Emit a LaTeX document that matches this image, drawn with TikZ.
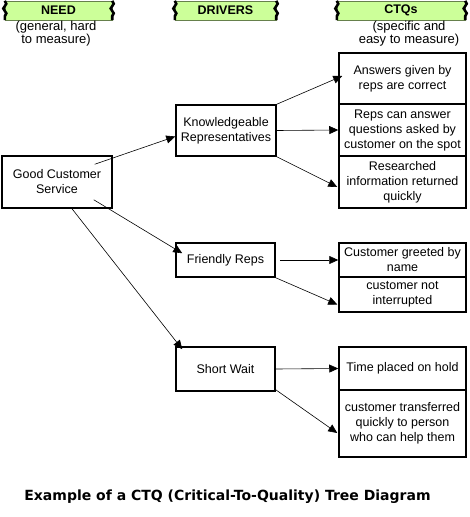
\documentclass[tikz,border=0pt]{standalone}
\usepackage{fontspec}
\setmainfont{Liberation Sans}
\newfontfamily\capfont{DejaVu Sans}
\usetikzlibrary{arrows.meta,calc,decorations.pathmorphing}

\definecolor{bannergreen}{RGB}{204,255,153}

\tikzset{
  banner/.style={fill=bannergreen,draw=bannergreen!50!black,line width=0.4pt,minimum height=19pt,inner sep=0pt,font=\bfseries\fontsize{12.5}{14}\selectfont},
  bannerend/.style={line width=2.6pt,decorate,decoration={snake,amplitude=1.5pt,segment length=9.5pt}},
  subtext/.style={align=center,font=\fontsize{13}{13}\selectfont},
  treebox/.style={draw,line width=1.5pt,inner sep=0pt,align=center,font=\fontsize{12.5}{15}\selectfont},
  link/.style={line width=0.6pt,-{Triangle[length=9pt,width=8pt]}}
}

\begin{document}
\begin{tikzpicture}[x=1pt,y=-1pt]
\useasboundingbox (0,0) rectangle (469,517);

% column headings
\node[banner,minimum width=107pt] (need) at (58.5,10.5) {NEED};
\node[banner,minimum width=101pt] (drivers) at (225.5,10.5) {DRIVERS};
\node[banner,minimum width=128pt] (ctqs) at (401,10.5) {CTQs};
\foreach \b in {need,drivers,ctqs} {
  \draw[bannerend] (\b.north west) -- (\b.south west);
  \draw[bannerend] (\b.north east) -- (\b.south east);
}
\node[subtext] (needsub) at (56,34) {(general, hard\\to measure)};
\node[subtext] (ctqsub) at (409,34) {(specific and\\easy to measure)};

% need and drivers
\node[treebox,minimum width=110pt,minimum height=52pt] (gcs) at (57,182) {Good Customer\\Service};
\node[treebox,minimum width=100pt,minimum height=51pt] (kr) at (226,130.5) {Knowledgeable\\Representatives};
\node[treebox,minimum width=99pt,minimum height=34pt] (fr) at (225.5,260) {Friendly Reps};
\node[treebox,minimum width=99pt,minimum height=44pt] (sw) at (225.5,369) {Short Wait};

% ctqs
\node[treebox,minimum width=127pt,minimum height=51pt] (a1) at (402.5,78.5) {Answers given by\\reps are correct};
\node[treebox,minimum width=127pt,minimum height=52pt] (a2) at (402.5,130) {Reps can answer\\questions asked by\\customer on the spot};
\node[treebox,minimum width=127pt,minimum height=52pt] (a3) at (402.5,182) {Researched\\information returned\\quickly};
\node[treebox,minimum width=127pt,minimum height=34pt] (b1) at (402.5,260) {Customer greeted by\\name};
\node[treebox,minimum width=127pt,minimum height=35pt] (b2) at (402.5,294.5) {customer not\\interrupted};
\node[treebox,minimum width=127pt,minimum height=43pt] (c1) at (402.5,368.5) {Time placed on hold};
\node[treebox,minimum width=127pt,minimum height=67pt] (c2) at (402.5,423.5) {customer transferred\\quickly to person\\who can help them};

\draw[link] ($(gcs.north east)+(-18,9)$) -- ($(kr.west)+(0,6)$);
\draw[link] ($(gcs.south east)+(-19,-9)$) -- ($(fr.north west)+(7,11)$);
\draw[link] ($(gcs.south)+(15,0)$) -- ($(sw.north west)+(7,3)$);

\draw[link] (kr.north east) -- ($(a1.west)+(4,-2.5)$);
\draw[link] (kr.east) -- (a2.west);
\draw[link] (kr.south east) -- ($(a3.west)+(-1,5)$);
\draw[link] ($(fr.east)+(4,0)$) -- (b1.west);
\draw[link] (fr.south east) -- ($(b2.west)+(-1,10)$);
\draw[link] (sw.east) -- (c1.west);
\draw[link] ($(sw.south east)+(0,-2)$) -- ($(c2.west)+(-1,9.5)$);

\node[font=\capfont\bfseries\fontsize{14}{16}\selectfont] (caption) at (227.5,497) {Example of a CTQ (Critical-To-Quality) Tree Diagram};
\end{tikzpicture}
\end{document}
